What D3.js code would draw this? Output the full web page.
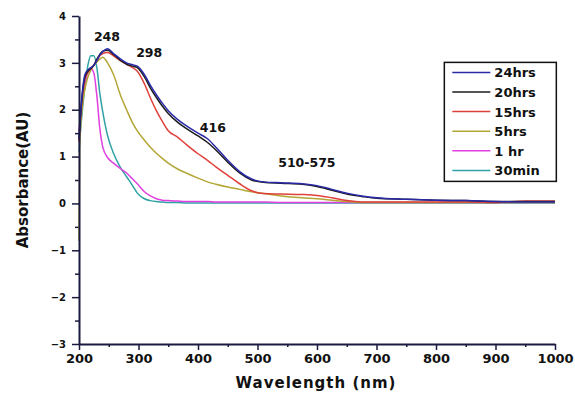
<!DOCTYPE html>
<html>
<head>
<meta charset="utf-8">
<script src="https://cdn.jsdelivr.net/npm/d3@7"></script>
<style>
  body { margin: 0; background: #fff; }
  text { font-family: "DejaVu Sans", sans-serif; font-weight: bold; fill: #111; }
</style>
</head>
<body>
<div id="chart"></div>
<script>
// wavelength grid (nm)
const wavelength = [200, 201, 205, 210, 215, 220, 225, 230, 235, 240, 248, 258, 270, 280, 290, 298,
  310, 320, 330, 340, 350, 365, 380, 400, 416, 430, 450, 470, 490, 510, 540, 575, 600, 625, 650,
  675, 700, 750, 800, 850, 900, 950, 1000];

const abs24hrs = [1.4, 1.6, 2.3, 2.75, 2.85, 2.9, 2.95, 3.05, 3.17, 3.24, 3.3, 3.2, 3.08, 3.0, 2.96, 2.93,
  2.75, 2.52, 2.32, 2.14, 1.98, 1.8, 1.66, 1.5, 1.38, 1.2, 0.92, 0.68, 0.52, 0.46, 0.44, 0.42, 0.38, 0.3, 0.22,
  0.16, 0.12, 0.09, 0.07, 0.06, 0.04, 0.03, 0.03];
const abs20hrs = [1.35, 1.55, 2.25, 2.7, 2.82, 2.88, 2.95, 3.08, 3.18, 3.25, 3.27, 3.18, 3.05, 2.97, 2.93, 2.9,
  2.7, 2.46, 2.26, 2.08, 1.92, 1.74, 1.6, 1.44, 1.3, 1.14, 0.88, 0.65, 0.5, 0.45, 0.43, 0.41, 0.36, 0.28, 0.2,
  0.15, 0.11, 0.09, 0.07, 0.06, 0.04, 0.04, 0.04];
const abs15hrs = [1.3, 1.5, 2.2, 2.65, 2.8, 2.88, 2.95, 3.05, 3.15, 3.2, 3.22, 3.15, 3.04, 2.97, 2.9, 2.82,
  2.55, 2.25, 1.98, 1.75, 1.55, 1.42, 1.26, 1.06, 0.92, 0.78, 0.6, 0.42, 0.27, 0.21, 0.2, 0.19, 0.17, 0.12, 0.06,
  0.03, 0.03, 0.03, 0.03, 0.03, 0.02, 0.05, 0.05];
const abs5hrs = [-0.8, 1.2, 2.0, 2.45, 2.7, 2.85, 2.95, 3.02, 3.08, 3.12, 3.0, 2.75, 2.3, 2.0, 1.72, 1.55,
  1.35, 1.2, 1.07, 0.96, 0.86, 0.74, 0.65, 0.54, 0.46, 0.41, 0.35, 0.3, 0.25, 0.21, 0.16, 0.12, 0.1, 0.07, 0.04,
  0.02, 0.02, 0.02, 0.02, 0.02, 0.02, 0.02, 0.02];
const abs1hr = [1.55, 1.7, 2.2, 2.57, 2.8, 2.88, 2.78, 2.3, 1.6, 1.2, 0.98, 0.86, 0.74, 0.65, 0.52, 0.42,
  0.25, 0.16, 0.1, 0.07, 0.06, 0.05, 0.04, 0.04, 0.04, 0.03, 0.03, 0.03, 0.03, 0.03, 0.02, 0.02, 0.02, 0.02, 0.02,
  0.02, 0.02, 0.02, 0.02, 0.02, 0.02, 0.02, 0.02];
const abs30min = [1.1, 1.3, 1.9, 2.5, 2.95, 3.15, 3.15, 2.9, 2.35, 1.95, 1.45, 1.07, 0.76, 0.57, 0.38, 0.22,
  0.1, 0.06, 0.04, 0.03, 0.02, 0.02, 0.01, 0.01, 0.01, 0.01, 0.01, 0.01, 0.01, 0.01, 0.01, 0.01, 0.01, 0.01, 0.01,
  0.01, 0.01, 0.01, 0.01, 0.01, 0.01, 0.01, 0.01];

const seriesNames = ["24hrs", "20hrs", "15hrs", "5hrs", "1 hr", "30min"];
const seriesValues = [abs24hrs, abs20hrs, abs15hrs, abs5hrs, abs1hr, abs30min];
const seriesColors = ["#2a2aa8", "#1c1c1c", "#e0403a", "#b3a634", "#e040e0", "#2fa2a6"];

const xTicks = [200, 300, 400, 500, 600, 700, 800, 900, 1000];
const yTicks = [-3, -2, -1, 0, 1, 2, 3, 4];

const peakLabels = [
  { text: "248", x: 247, y: 3.47 },
  { text: "298", x: 318, y: 3.13 },
  { text: "416", x: 425, y: 1.53 },
  { text: "510-575", x: 583, y: 0.78 }
];

const width = 575, height = 396;
const margin = { left: 79, right: 20, top: 16, bottom: 52 };
const innerWidth = width - margin.left - margin.right;
const innerHeight = height - margin.top - margin.bottom;

const svg = d3.select("#chart").append("svg")
  .attr("width", width)
  .attr("height", height);

const g = svg.append("g")
  .attr("transform", `translate(${margin.left}, ${margin.top})`);

const x = d3.scaleLinear().domain([200, 1000]).range([0, innerWidth]);
const y = d3.scaleLinear().domain([-3, 4]).range([innerHeight, 0]);

// minor ticks
const axisColor = "#1a1a40";
g.append("g")
  .attr("transform", `translate(0, ${innerHeight})`)
  .call(d3.axisBottom(x).tickValues(d3.range(250, 1000, 100)).tickSize(3).tickFormat(""))
  .call(a => a.select(".domain").remove())
  .call(a => a.selectAll("text").remove())
  .call(a => a.selectAll("line").attr("stroke", axisColor).attr("stroke-width", 1.5));
g.append("g")
  .call(d3.axisLeft(y).tickValues(d3.range(-2.5, 4, 1)).tickSize(4).tickFormat(""))
  .call(a => a.select(".domain").remove())
  .call(a => a.selectAll("text").remove())
  .call(a => a.selectAll("line").attr("stroke", axisColor).attr("stroke-width", 1.5));

// lines (drawn bottom to top)
const line = d3.line()
  .x((d, i) => x(wavelength[i]))
  .y(d => y(d))
  .curve(d3.curveMonotoneX);

for (let k = seriesValues.length - 1; k >= 0; k--) {
  g.append("path")
    .datum(seriesValues[k])
    .attr("fill", "none")
    .attr("stroke", seriesColors[k])
    .attr("stroke-width", 1.5)
    .attr("d", line);
}

// major axes
g.append("g")
  .attr("transform", `translate(0, ${innerHeight})`)
  .call(d3.axisBottom(x).tickValues(xTicks).tickFormat(d3.format("d")).tickSize(6).tickSizeOuter(0).tickPadding(4))
  .call(a => a.select(".domain").attr("stroke", axisColor).attr("stroke-width", 2))
  .call(a => a.selectAll("line").attr("stroke", axisColor).attr("stroke-width", 1.5))
  .call(a => a.selectAll("text").attr("font-size", 13).attr("font-family", "DejaVu Sans").attr("font-weight", "bold").attr("fill", "#111"));

g.append("g")
  .call(d3.axisLeft(y).tickValues(yTicks).tickFormat(d3.format("d")).tickSize(7).tickSizeOuter(0).tickPadding(6))
  .call(a => a.select(".domain").attr("stroke", axisColor).attr("stroke-width", 2))
  .call(a => a.selectAll("line").attr("stroke", axisColor).attr("stroke-width", 1.5))
  .call(a => a.selectAll("text").attr("font-size", 10).attr("font-family", "DejaVu Sans").attr("font-weight", "bold").attr("fill", "#111"));

// peak annotations
g.selectAll(".peak")
  .data(peakLabels)
  .enter()
  .append("text")
  .attr("class", "peak")
  .attr("x", d => x(d.x))
  .attr("y", d => y(d.y))
  .attr("text-anchor", "middle")
  .attr("font-size", 12.5)
  .text(d => d.text);

// legend
const legend = g.append("g").attr("transform", `translate(${x(814)}, ${y(3.01)})`);
legend.append("rect")
  .attr("x", 0).attr("y", 0)
  .attr("width", 112).attr("height", 119)
  .attr("fill", "#fff")
  .attr("stroke", "#111")
  .attr("stroke-width", 1.5);
seriesNames.forEach((name, i) => {
  const row = legend.append("g").attr("transform", `translate(0, ${10 + i * 19.6})`);
  row.append("line")
    .attr("x1", 8).attr("x2", 46)
    .attr("y1", 0).attr("y2", 0)
    .attr("stroke", seriesColors[i])
    .attr("stroke-width", 1.5);
  row.append("text")
    .attr("x", 50).attr("y", 5)
    .attr("font-size", 13)
    .text(name);
});

// axis titles
g.append("text")
  .attr("x", innerWidth / 2 - 1)
  .attr("y", innerHeight + 44)
  .attr("text-anchor", "middle")
  .attr("font-size", 15)
  .attr("letter-spacing", 1)
  .text("Wavelength (nm)");

g.append("text")
  .attr("transform", "rotate(-90)")
  .attr("x", -y(0.5))
  .attr("y", -51)
  .attr("text-anchor", "middle")
  .attr("font-size", 15)
  .text("Absorbance(AU)");
</script>
</body>
</html>
